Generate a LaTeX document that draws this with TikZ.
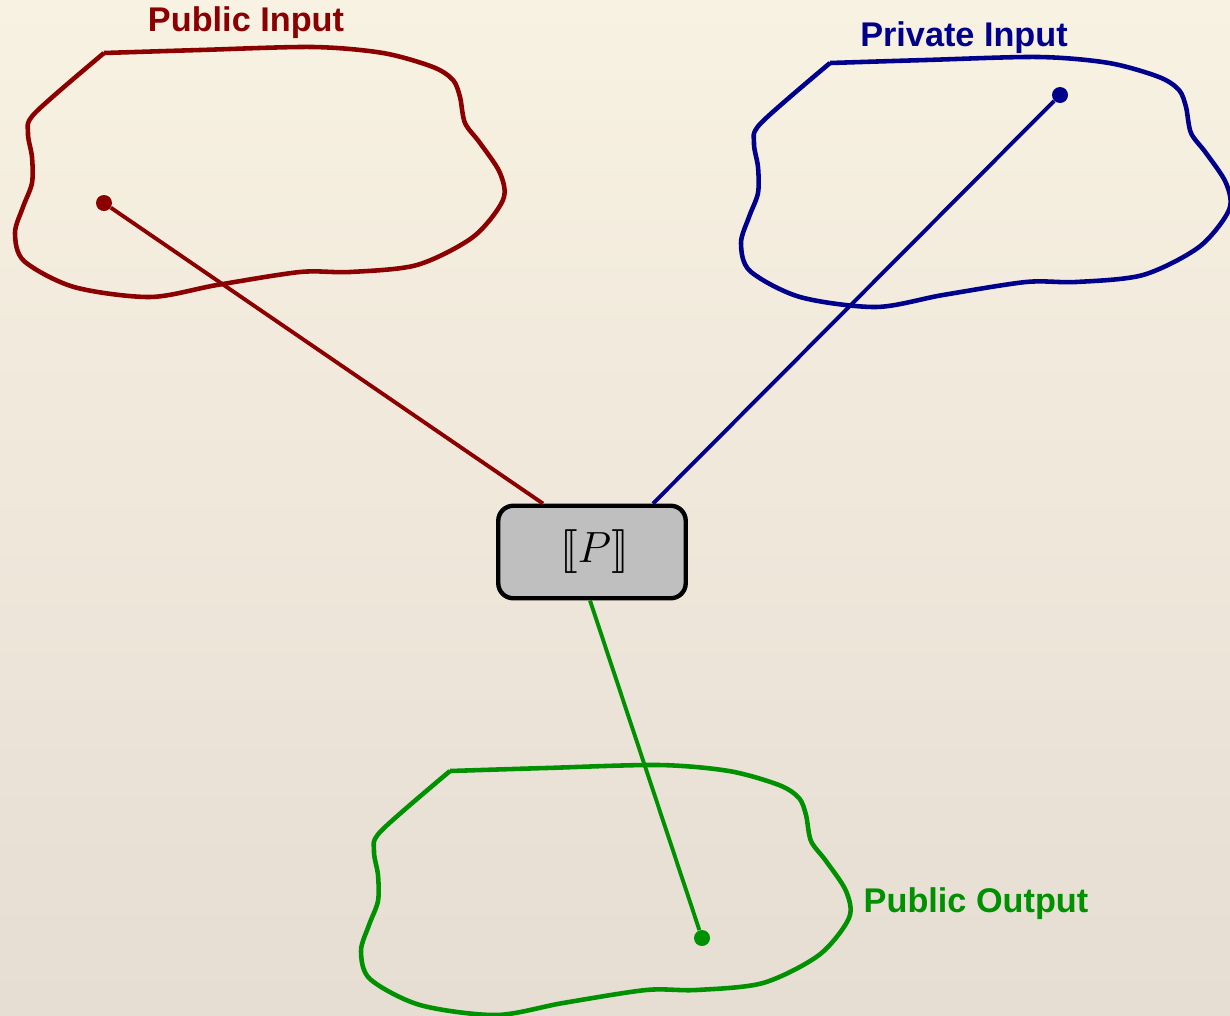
\documentclass[tikz,border=0pt]{standalone}
\usepackage{fontspec}
\setsansfont{Liberation Sans}
\usepackage{stmaryrd}
\definecolor{pubred}{RGB}{139,0,0}
\definecolor{privblue}{RGB}{0,0,140}
\definecolor{pubgreen}{RGB}{0,145,0}
\definecolor{paperTop}{RGB}{248,242,226}
\definecolor{paperBot}{RGB}{230,221,211}
\definecolor{boxgray}{RGB}{191,191,191}
% one hand drawn region, its sharp corner at (0,0)
\newcommand{\regionpath}{plot[smooth, tension=0.5] coordinates {
  (0,0) (96,-3) (209,-6) (279,0) (329,14) (349,27) (356,44) (361,70)
  (376,90) (396,120) (399,147) (369,184) (313,212) (246,219) (196,219)
  (113,232) (46,244) (-30,234) (-80,208) (-89,180) (-81,154)
  (-72,130) (-72,104) (-76,80) (-69,60) (0,0)}}
\begin{document}
\begin{tikzpicture}[x=0.02cm, y=-0.02cm,
    region/.style={line width=2.6pt, line join=round},
    wire/.style={line width=2.2pt},
    dotnode/.style={circle, fill, inner sep=0pt, minimum size=0.32cm},
    setlabel/.style={font=\sffamily\bfseries\fontsize{19.5}{22}\selectfont}]
  \shade[top color=paperTop, bottom color=paperBot] (0,0) rectangle (1230,1015);
  \useasboundingbox (0,0) rectangle (1230,1015);
  % the three regions
  \begin{scope}[shift={(104,53)}]
    \draw[region, pubred] \regionpath;
  \end{scope}
  \begin{scope}[shift={(830,63)}]
    \draw[region, privblue] \regionpath;
  \end{scope}
  \begin{scope}[shift={(450,771)}]
    \draw[region, pubgreen] \regionpath;
  \end{scope}
  \node[setlabel, pubred] (pubinlbl) at (246,23) {Public Input};
  \node[setlabel, privblue] (privinlbl) at (964,38) {Private Input};
  \node[setlabel, pubgreen] (puboutlbl) at (976,904) {Public Output};
  % program box
  \node[draw, line width=2.5pt, rounded corners=0.3cm, fill=boxgray,
    minimum width=3.75cm, minimum height=1.85cm,
    font=\fontsize{27}{30}\selectfont] (prog) at (592,552) {\hspace{0.1cm}$\llbracket P\rrbracket$};
  % points and wires
  \node[dotnode, pubred] (pubin) at (104,203) {};
  \node[dotnode, privblue] (privin) at (1060,95) {};
  \node[dotnode, pubgreen] (pubout) at (702,938) {};
  \draw[wire, pubred] (pubin) -- ([xshift=-0.98cm]prog.north);
  \draw[wire, privblue] (privin) -- ([xshift=1.22cm]prog.north);
  \draw[wire, pubgreen] ([xshift=-0.04cm]prog.south) -- (pubout);
\end{tikzpicture}
\end{document}
